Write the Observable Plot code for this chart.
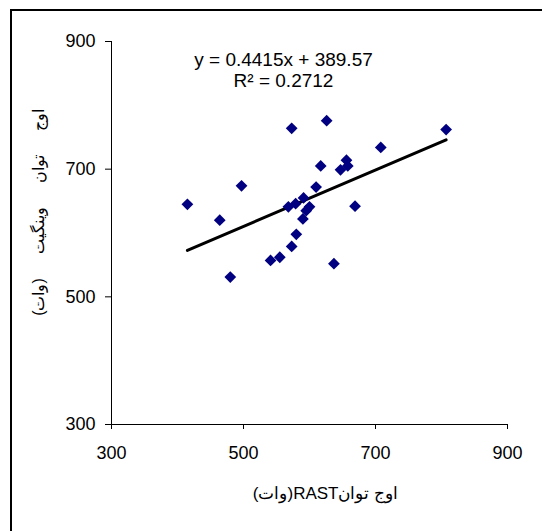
<!DOCTYPE html>
<html>
<head>
<meta charset="utf-8">
<script src="https://cdn.jsdelivr.net/npm/d3@7"></script>
<script src="https://cdn.jsdelivr.net/npm/@observablehq/plot@0.6"></script>
<style>
  html, body { margin: 0; padding: 0; background: #fff; }
  #wrap { position: relative; width: 542px; height: 531px; overflow: hidden; }
  #border { position: absolute; left: 10px; top: 9px; width: 600px; height: 600px;
            border-left: 2px solid #000; border-top: 2px solid #000; pointer-events: none; }
</style>
</head>
<body>
<div id="wrap"><div id="border"></div></div>
<script>
// RAST peak power (W) vs Wingate peak power (W)
const rastPower = [415, 464, 480, 497, 541, 555, 573, 568, 579, 573, 580, 590, 591, 595, 600, 610, 617, 626, 637, 647, 656, 658, 669, 708, 807];
const wingatePower = [645, 620, 531, 674, 557, 562, 764, 641, 646, 579, 598, 622, 655, 635, 641, 672, 705, 776, 552, 699, 714, 705, 642, 734, 762];
const slope = 0.4415;
const intercept = 389.57;
const rSquared = 0.2712;
const xTicks = [300, 500, 700, 900];
const yTicks = [300, 500, 700, 900];
const xLabel = "اوج توان" + "RAST" + "(وات)";
const yLabel = "اوج توان وینگیت (وات)";
const eqText = `y = ${slope}x + ${intercept}`;
const r2Text = `R² = ${rSquared}`;

const points = rastPower.map((x, i) => ({x, y: wingatePower[i]}));
const [xmin, xmax] = d3.extent(rastPower);
const fit = [xmin, xmax].map(x => ({x, y: slope * x + intercept}));

const font = "'Liberation Sans', Arial, sans-serif";
// wide (non-collapsing) gaps between words, as in the original label
const spacedY = yLabel.replace(/ /g, "\u2003\u2002");

const chart = Plot.plot({
  width: 542,
  height: 531,
  marginLeft: 111,
  marginRight: 35,
  marginTop: 41,
  marginBottom: 107,
  style: {fontFamily: font, background: "transparent", color: "#000"},
  x: {domain: [300, 900]},
  y: {domain: [300, 900]},
  marks: [
    Plot.axisX(xTicks, {tickSize: 5, tickPadding: 17, fontSize: 18, label: null, stroke: "#000"}),
    Plot.axisY(yTicks, {tickSize: 6, tickPadding: 10, fontSize: 18, label: null, stroke: "#000"}),
    Plot.ruleX([300], {stroke: "#000"}),
    Plot.ruleY([300], {stroke: "#000"}),
    Plot.line(fit, {x: "x", y: "y", stroke: "#000", strokeWidth: 3}),
    Plot.dot(points, {x: "x", y: "y", symbol: "diamond2", r: 5.3, fill: "#000080", stroke: "none"}),
    Plot.text([eqText], {frameAnchor: "top", dx: -26, dy: 24, lineAnchor: "bottom", fontSize: 19, fill: "#000"}),
    Plot.text([r2Text], {frameAnchor: "top", dx: -26, dy: 45.7, lineAnchor: "bottom", fontSize: 19, fill: "#000"}),
    Plot.text([xLabel], {frameAnchor: "bottom", dx: 16, dy: 74, lineAnchor: "bottom", fontSize: 17, fill: "#000", className: "rtl"}),
    Plot.text([spacedY], {frameAnchor: "left", textAnchor: "middle", dx: -73, dy: -20.5, rotate: -90, fontSize: 16, fill: "#000", className: "rtl"})
  ]
});

d3.select(chart).selectAll(".rtl text").attr("direction", "rtl").style("unicode-bidi", "embed");
chart.style.position = "absolute";
chart.style.left = "0";
chart.style.top = "0";
document.getElementById("wrap").prepend(chart);
</script>
</body>
</html>
